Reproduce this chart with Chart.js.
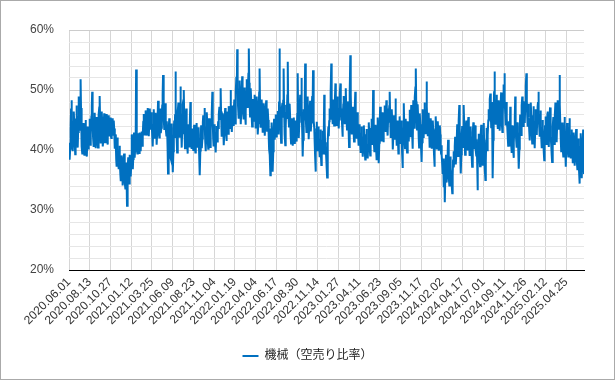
<!DOCTYPE html>
<html>
<head>
<meta charset="utf-8">
<script src="https://cdn.jsdelivr.net/npm/chart.js"></script>
<style>
  html, body { margin: 0; padding: 0; background: #fff; }
  #wrap { position: relative; width: 615px; height: 380px; }
  #frame { position: absolute; left: 0; top: 0; width: 615px; height: 380px; box-sizing: border-box; border: 1px solid #aaa; pointer-events: none; }
</style>
</head>
<body>
<div id="wrap">
  <canvas id="chart" width="615" height="380"></canvas>
  <div id="frame"></div>
</div>
<script>
'use strict';

// Series name
var seriesLabel = '機械（空売り比率）';

// Tick labels, one every 50 trading days
var tickLabels = [
  '2020.06.01', '2020.08.13', '2020.10.27', '2021.01.12', '2021.03.25',
  '2021.06.09', '2021.08.23', '2021.11.04', '2022.01.19', '2022.04.04',
  '2022.06.17', '2022.08.30', '2022.11.14', '2023.01.27', '2023.04.11',
  '2023.06.23', '2023.09.05', '2023.11.17', '2024.02.02', '2024.04.17',
  '2024.07.01', '2024.09.11', '2024.11.26', '2025.02.12', '2025.04.25'
];
var tickStep = 50;

// Daily short-selling ratio (%)
var ratio = [
  // 2020.06.01
  41.2, 39.6, 38.4, 40.2, 43.5, 46.9, 48.3, 45.0, 42.1, 39.8,
  41.7, 44.6, 46.4, 44.0, 40.9, 39.3, 42.2, 45.1, 47.4, 45.6,
  42.8, 40.4, 43.0, 46.1, 48.9, 46.3, 43.2, 47.5, 51.8, 47.0,
  43.4, 40.6, 39.4, 41.8, 44.5, 42.7, 40.0, 39.2, 41.6, 44.3,
  45.0, 42.4, 39.8, 38.9, 41.3, 43.9, 42.0, 40.1, 41.5, 43.6,
  // 2020.08.13
  45.2, 43.1, 40.7, 42.5, 45.6, 47.3, 49.7, 45.8, 42.2, 40.5,
  42.7, 45.0, 46.2, 43.4, 41.0, 40.3, 42.8, 45.5, 44.0, 41.6,
  40.4, 43.2, 45.9, 47.1, 49.0, 45.3, 42.6, 41.1, 43.7, 46.4,
  44.8, 42.0, 40.6, 41.9, 44.7, 46.1, 43.5, 41.3, 42.8, 45.2,
  46.0, 43.6, 41.5, 40.9, 43.3, 45.8, 44.2, 42.4, 43.9, 45.4,
  // 2020.10.27
  44.6, 42.5, 42.0, 43.8, 45.3, 44.0, 42.4, 43.1, 44.9, 43.6,
  41.8, 40.2, 42.6, 41.0, 38.4, 37.2, 39.5, 42.1, 40.3, 37.6,
  36.8, 38.9, 40.7, 38.2, 35.9, 34.8, 36.6, 39.1, 38.0, 35.4,
  34.1, 36.3, 38.5, 39.4, 37.0, 34.6, 33.6, 35.8, 37.9, 35.2,
  30.7, 33.5, 36.7, 38.8, 36.2, 34.4, 36.9, 39.2, 37.5, 35.6,
  // 2021.01.12
  37.3, 40.1, 42.6, 39.4, 36.8, 38.5, 41.9, 42.9, 40.2, 38.7,
  40.5, 42.4, 53.4, 43.0, 40.1, 39.4, 41.3, 42.8, 40.6, 39.5,
  41.2, 42.9, 41.0, 39.8, 41.6, 43.1, 42.0, 40.7, 42.5, 44.3,
  46.0, 44.1, 42.6, 43.5, 45.8, 46.6, 44.2, 42.4, 43.3, 45.5,
  47.0, 45.1, 43.0, 42.3, 44.6, 46.9, 45.2, 43.4, 44.1, 46.3,
  // 2021.03.25
  44.5, 42.2, 40.6, 42.9, 45.7, 46.8, 44.0, 41.9, 43.6, 46.2,
  44.8, 42.3, 40.9, 43.1, 45.9, 48.2, 45.4, 43.0, 42.1, 44.7,
  46.9, 45.0, 42.8, 43.7, 46.1, 47.4, 49.3, 52.5, 47.6, 45.2,
  43.5, 45.9, 47.8, 46.0, 43.6, 42.4, 44.8, 43.1, 40.2, 36.1,
  39.4, 43.2, 45.3, 42.5, 39.0, 38.6, 41.7, 44.4, 42.8, 40.3,
  // 2021.06.09
  37.9, 36.3, 39.8, 43.6, 44.9, 42.0, 45.8, 53.1, 47.2, 44.0,
  41.5, 39.6, 42.9, 46.4, 47.9, 44.6, 42.2, 43.8, 46.7, 50.6,
  46.3, 43.1, 40.4, 42.8, 45.5, 47.6, 48.3, 50.0, 45.9, 42.7,
  40.3, 41.9, 44.8, 46.9, 44.2, 41.4, 39.4, 42.0, 44.3, 42.9,
  40.6, 41.8, 44.5, 48.0, 43.7, 41.1, 40.2, 42.4, 43.6, 41.3,
  // 2021.08.23
  40.0, 41.8, 44.2, 43.0, 40.9, 39.6, 41.7, 43.9, 44.5, 42.1,
  40.4, 41.6, 43.8, 42.2, 39.7, 38.1, 35.8, 39.9, 42.5, 44.1,
  42.6, 40.3, 41.9, 44.6, 45.8, 43.9, 45.4, 47.0, 44.1, 41.2,
  39.8, 42.3, 44.9, 46.3, 44.0, 41.5, 40.2, 42.7, 45.3, 43.4,
  41.0, 40.5, 43.2, 45.1, 44.0, 46.2, 49.7, 44.8, 41.9, 40.6,
  // 2021.11.04
  42.4, 44.3, 43.1, 40.8, 39.6, 41.7, 44.0, 43.2, 41.4, 42.9,
  44.8, 43.5, 45.9, 47.2, 45.0, 46.8, 50.3, 46.4, 43.7, 42.2,
  43.9, 46.1, 44.5, 41.6, 40.8, 43.0, 45.7, 47.0, 45.2, 42.9,
  41.5, 43.8, 46.4, 45.1, 42.7, 44.6, 47.3, 46.0, 43.5, 45.8,
  50.0, 46.9, 44.2, 43.0, 45.6, 47.4, 45.9, 44.0, 46.2, 48.4,
  // 2022.01.19
  46.5, 44.4, 47.0, 49.8, 52.2, 50.1, 56.8, 50.6, 47.3, 45.2,
  46.9, 49.5, 51.6, 48.8, 46.0, 44.3, 46.7, 49.9, 52.3, 49.0,
  46.4, 45.1, 47.8, 50.4, 48.6, 45.9, 44.2, 46.5, 49.7, 51.8,
  49.3, 47.0, 49.6, 52.7, 56.9, 51.2, 48.0, 45.6, 47.9, 50.3,
  48.1, 45.4, 43.9, 45.8, 48.5, 47.2, 44.7, 46.3, 49.2, 47.6,
  // 2022.04.04
  45.0, 43.6, 46.1, 48.9, 47.4, 44.8, 42.6, 44.5, 47.3, 49.6,
  53.6, 48.0, 45.3, 43.7, 46.2, 48.4, 46.8, 44.1, 42.9, 45.7,
  47.8, 46.0, 43.5, 42.4, 44.9, 47.1, 48.3, 45.6, 43.2, 44.7,
  46.9, 45.0, 42.3, 40.1, 43.6, 39.2, 35.8, 38.7, 42.4, 44.6,
  41.3, 37.9, 36.4, 39.8, 43.5, 45.2, 42.8, 41.7, 44.0, 45.9,
  // 2022.06.17
  44.2, 42.1, 43.5, 45.8, 46.5, 44.0, 42.6, 47.9, 56.9, 48.4,
  45.1, 43.3, 41.2, 44.0, 46.9, 47.8, 45.4, 48.2, 53.6, 47.5,
  44.6, 42.5, 40.8, 43.7, 46.3, 47.6, 45.2, 49.1, 54.7, 47.8,
  45.3, 43.9, 46.4, 47.7, 45.0, 42.3, 41.1, 43.6, 45.3, 42.8,
  40.7, 42.2, 44.8, 45.4, 43.1, 41.0, 42.6, 44.9, 43.5, 41.4,
  // 2022.08.30
  42.8, 46.0, 52.8, 46.1, 43.4, 42.0, 44.7, 47.5, 49.2, 46.3,
  48.0, 52.0, 46.6, 42.9, 38.9, 41.7, 44.6, 46.8, 45.1, 48.3,
  54.4, 48.7, 45.2, 43.0, 44.8, 47.6, 48.9, 46.0, 42.6, 41.8,
  44.3, 46.9, 48.2, 45.7, 43.1, 44.6, 47.4, 49.0, 47.2, 53.3,
  47.5, 44.9, 43.6, 41.2, 39.0, 36.4, 39.5, 42.8, 44.7, 42.0,
  // 2022.11.14
  39.8, 41.6, 43.9, 42.0, 40.3, 38.8, 40.9, 43.4, 40.1, 37.5,
  38.9, 41.7, 43.2, 41.0, 39.4, 42.8, 49.2, 44.5, 41.3, 39.2,
  40.7, 38.5, 36.9, 35.4, 38.2, 41.6, 43.9, 42.3, 44.8, 46.9,
  45.2, 47.7, 49.6, 54.4, 48.8, 46.0, 44.3, 45.9, 48.4, 46.6,
  44.1, 45.5, 47.8, 51.1, 48.0, 45.4, 44.0, 46.7, 48.9, 47.1,
  // 2023.01.27
  45.0, 43.6, 45.8, 48.2, 49.4, 51.1, 47.3, 45.1, 46.9, 44.4,
  42.2, 44.7, 47.6, 49.0, 46.5, 44.3, 45.9, 48.7, 50.3, 47.2,
  44.9, 43.4, 45.7, 48.1, 46.2, 43.0, 40.5, 44.2, 49.6, 55.8,
  49.3, 46.0, 44.1, 42.6, 44.5, 47.2, 45.5, 42.9, 41.4, 43.8,
  46.4, 49.7, 45.8, 43.2, 41.9, 44.0, 46.3, 44.6, 42.1, 40.7,
  // 2023.04.11
  42.5, 44.3, 43.0, 40.8, 39.5, 41.7, 43.9, 42.4, 40.1, 38.9,
  40.6, 42.8, 44.1, 42.0, 39.7, 38.4, 40.3, 42.6, 43.5, 41.1,
  39.3, 38.6, 40.8, 43.2, 44.6, 42.3, 40.0, 39.1, 41.4, 43.7,
  45.2, 42.9, 41.0, 43.5, 50.0, 44.4, 41.6, 39.8, 41.9, 44.2,
  42.7, 40.5, 38.3, 40.6, 43.8, 45.4, 43.1, 40.4, 37.8, 41.2,
  // 2023.06.23
  44.6, 47.2, 45.1, 42.4, 41.6, 43.9, 46.3, 44.8, 42.1, 41.3,
  43.5, 46.0, 47.4, 45.2, 43.0, 44.9, 48.3, 46.6, 43.9, 42.4,
  44.7, 46.9, 45.5, 47.3, 49.7, 46.1, 43.8, 42.0, 44.4, 46.8,
  45.0, 42.6, 40.1, 42.9, 45.8, 44.2, 41.7, 43.6, 48.6, 45.3,
  42.8, 40.7, 42.4, 44.9, 43.0, 39.4, 41.2, 43.8, 45.6, 43.1,
  // 2023.09.05
  41.0, 42.7, 44.9, 41.8, 39.5, 37.0, 40.2, 43.6, 47.8, 44.5,
  41.9, 40.3, 42.6, 45.2, 43.7, 41.0, 39.6, 42.2, 44.8, 43.1,
  41.4, 43.9, 46.7, 44.6, 42.3, 44.8, 47.5, 45.9, 43.2, 41.5,
  40.2, 48.3, 46.0, 43.7, 45.5, 48.8, 50.4, 53.6, 48.1, 45.2,
  43.4, 45.7, 47.6, 44.9, 42.1, 40.4, 43.0, 46.1, 44.3, 41.7,
  // 2023.11.17
  39.9, 38.0, 41.3, 44.6, 46.8, 44.2, 42.0, 45.3, 47.9, 45.0,
  42.8, 44.1, 46.6, 51.4, 47.2, 44.5, 42.3, 43.9, 46.2, 44.0,
  41.6, 40.4, 42.9, 45.3, 44.1, 41.8, 40.2, 42.6, 44.9, 43.3,
  41.0, 39.3, 37.2, 40.5, 43.4, 45.6, 44.0, 41.7, 40.1, 42.4,
  44.8, 43.5, 41.2, 39.9, 42.3, 44.1, 42.6, 40.5, 39.4, 40.8,
  // 2024.02.02
  39.1, 37.4, 36.0, 38.6, 35.2, 33.8, 35.9, 31.3, 34.7, 37.5,
  39.2, 36.8, 34.6, 36.9, 39.6, 41.7, 38.3, 35.5, 34.1, 36.7,
  38.9, 37.0, 35.3, 36.6, 34.4, 32.8, 35.7, 38.4, 39.8, 37.1,
  38.5, 40.6, 42.2, 39.9, 37.6, 39.4, 42.0, 44.3, 41.5, 39.0,
  41.8, 44.9, 47.5, 43.6, 40.7, 38.9, 36.1, 39.3, 42.6, 44.0,
  // 2024.04.17
  42.1, 40.5, 43.8, 47.5, 44.0, 41.6, 39.2, 40.8, 43.4, 44.9,
  42.7, 40.1, 41.9, 44.3, 45.5, 43.0, 40.6, 39.0, 41.5, 43.9,
  42.4, 40.2, 38.8, 37.2, 40.1, 42.9, 44.6, 42.8, 40.3, 41.7,
  44.1, 42.5, 40.0, 39.1, 41.8, 38.4, 33.3, 37.6, 40.9, 42.7,
  41.0, 38.6, 37.3, 39.9, 42.4, 44.2, 41.8, 39.5, 37.4, 39.6,
  // 2024.07.01
  42.3, 44.5, 41.2, 38.4, 36.9, 35.0, 38.1, 41.6, 43.7, 42.0,
  39.8, 42.5, 44.9, 46.8, 45.1, 47.3, 48.5, 49.4, 46.2, 43.8,
  45.9, 48.0, 42.6, 35.3, 41.7, 46.4, 49.8, 53.1, 48.6, 46.0,
  44.2, 46.7, 49.2, 47.4, 44.8, 43.5, 45.9, 48.3, 47.0, 44.6,
  43.2, 45.4, 47.9, 49.6, 47.1, 44.5, 43.0, 45.8, 48.7, 50.9,
  // 2024.09.11
  48.2, 52.8, 48.4, 45.9, 44.1, 46.5, 48.0, 45.3, 43.6, 42.1,
  40.7, 42.9, 44.8, 43.0, 40.6, 47.2, 43.9, 41.3, 39.5, 41.8,
  44.1, 42.6, 40.0, 38.7, 41.2, 43.8, 45.5, 48.9, 44.3, 42.0,
  40.4, 42.8, 44.6, 43.1, 40.9, 39.3, 36.9, 40.2, 43.7, 45.9,
  44.1, 42.5, 44.7, 47.4, 48.9, 46.3, 44.0, 45.8, 48.1, 46.6,
  // 2024.11.26
  44.5, 46.8, 49.5, 50.7, 52.8, 48.3, 45.6, 43.9, 46.2, 47.7,
  45.4, 43.0, 41.6, 43.8, 46.5, 47.9, 45.2, 42.7, 41.1, 43.4,
  45.8, 47.3, 45.0, 42.6, 40.3, 42.9, 45.1, 46.8, 44.4, 42.5,
  44.9, 47.2, 48.0, 49.7, 46.1, 43.7, 42.2, 44.5, 46.6, 44.0,
  41.8, 40.3, 42.7, 45.0, 43.6, 41.2, 39.5, 38.3, 41.4, 44.1,
  // 2025.02.12
  45.6, 43.3, 41.0, 42.8, 44.7, 46.4, 44.1, 41.8, 40.5, 42.9,
  45.3, 47.1, 44.6, 42.2, 40.7, 39.2, 38.0, 41.4, 43.9, 45.5,
  43.2, 41.0, 42.8, 45.7, 47.9, 45.1, 42.6, 41.3, 43.8, 46.5,
  48.3, 45.7, 43.4, 46.9, 52.5, 47.6, 44.0, 41.5, 39.8, 42.3,
  44.6, 43.0, 40.4, 38.9, 41.7, 44.2, 45.5, 42.6, 39.7, 37.2,
  // 2025.04.25
  39.9, 42.4, 44.5, 43.0, 40.6, 38.9, 41.2, 43.8, 45.3, 42.7,
  40.1, 38.6, 40.9, 43.4, 42.0, 39.5, 37.8, 40.2, 42.9, 41.3,
  38.7, 37.4, 39.6, 42.1, 43.5, 41.0, 38.3, 36.8, 39.2, 41.9,
  39.4, 36.6, 34.4, 37.3, 40.5, 42.8, 40.1, 37.0, 35.3, 38.6,
  41.7, 43.4, 39.8, 36.0
];

var yMin = 20;
var yMax = 60;

var fontFamily = 'Arial, "Liberation Sans", "Noto Sans CJK JP", sans-serif';

var points = ratio.map(function(v, i) {
  return { x: i, y: v };
});

var ctx = document.getElementById('chart').getContext('2d');
new Chart(ctx, {
  type: 'line',
  data: {
    datasets: [{
      label: seriesLabel,
      data: points,
      borderColor: '#0070c0',
      backgroundColor: '#0070c0',
      borderWidth: 2,
      pointRadius: 0,
      pointHoverRadius: 0,
      tension: 0,
      fill: false
    }]
  },
  options: {
    responsive: false,
    animation: false,
    parsing: false,
    layout: {
      padding: { left: 0, right: 0, top: 30, bottom: 8 }
    },
    plugins: {
      tooltip: { enabled: false },
      legend: {
        position: 'bottom',
        labels: {
          usePointStyle: true,
          pointStyle: 'line',
          pointStyleWidth: 16,
          padding: 14,
          color: '#222',
          font: { family: fontFamily, size: 12 }
        }
      }
    },
    scales: {
      x: {
        type: 'linear',
        min: 0,
        max: ratio.length - 1,
        grid: {
          color: '#d6d6d6',
          drawTicks: false
        },
        border: {
          display: true,
          color: '#000',
          width: 1,
          z: 1
        },
        ticks: {
          stepSize: tickStep,
          includeBounds: false,
          autoSkip: false,
          minRotation: 45,
          maxRotation: 45,
          padding: 5,
          color: '#333',
          font: { family: fontFamily, size: 12 },
          callback: function(value) {
            var k = Math.round(value / tickStep);
            return tickLabels[k] !== undefined ? tickLabels[k] : '';
          }
        },
        afterFit: function(scale) {
          scale.height = 66;
        }
      },
      y: {
        min: yMin,
        max: yMax,
        grid: {
          drawTicks: false,
          color: function(c) {
            return c.tick && c.tick.value % 10 === 0 ? '#cccccc' : '#e6e6e6';
          }
        },
        border: { display: false },
        ticks: {
          stepSize: 2,
          autoSkip: false,
          padding: 15,
          color: '#444',
          font: { family: fontFamily, size: 12 },
          callback: function(value) {
            return value % 10 === 0 ? value + '%' : '';
          }
        },
        afterFit: function(scale) {
          scale.width = 69;
        }
      },
      // empty space on the right so the legend stays centred on the page
      spacer: {
        type: 'linear',
        position: 'right',
        grid: { display: false },
        border: { display: false },
        ticks: { display: false },
        afterFit: function(scale) {
          scale.width = 31;
        }
      }
    }
  }
});
</script>
</body>
</html>
